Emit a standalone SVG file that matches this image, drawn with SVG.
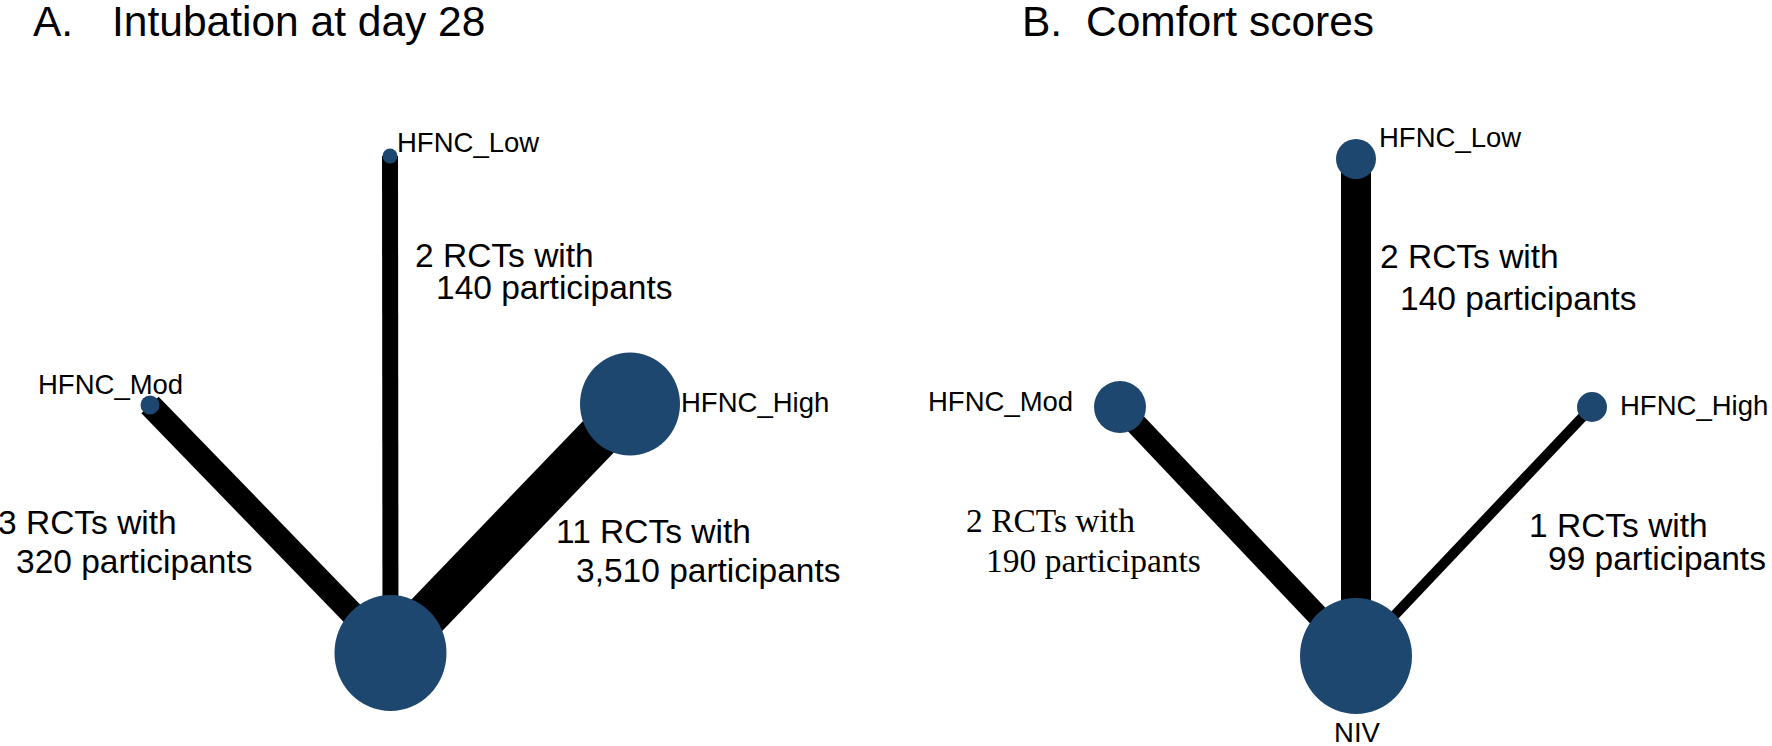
<svg xmlns="http://www.w3.org/2000/svg" width="1772" height="746" viewBox="0 0 1772 746">
<style>
.title{font-family:"Liberation Sans",Arial,sans-serif;font-size:42.5px;fill:#000}
.nl{font-family:"Liberation Sans",Arial,sans-serif;font-size:27.5px;fill:#000}
.el{font-family:"Liberation Sans",Arial,sans-serif;font-size:33.5px;fill:#000}
.els{font-family:"Liberation Serif","Times New Roman",serif;font-size:33.5px;fill:#000}
.node{fill:#1d476e}
.edge{stroke:#000;stroke-linecap:butt;fill:none}
</style>
<rect width="1772" height="746" fill="#fff"/>
<g id="titles">
<text class="title" x="33" y="36">A.</text>
<text class="title" x="112" y="36">Intubation at day 28</text>
<text class="title" x="1022" y="36">B.</text>
<text class="title" x="1086" y="36">Comfort scores</text>
</g>
<g id="connectors">
<line class="edge" x1="390.5" y1="653" x2="390" y2="156" stroke-width="16"/>
<line class="edge" x1="390.5" y1="653" x2="150" y2="405" stroke-width="24"/>
<line class="edge" x1="390.5" y1="653" x2="630" y2="404" stroke-width="44"/>
<line class="edge" x1="1356" y1="656" x2="1356" y2="159" stroke-width="30"/>
<line class="edge" x1="1356" y1="656" x2="1120" y2="407" stroke-width="22"/>
<line class="edge" x1="1356" y1="656" x2="1592" y2="407" stroke-width="10"/>
</g>
<g id="edge-labels">
<text class="el" x="415" y="267">2 RCTs with</text>
<text class="el" x="436" y="299">140 participants</text>
<text class="el" x="-2" y="534">3 RCTs with</text>
<text class="el" x="16" y="573">320 participants</text>
<text class="el" x="556" y="543">11 RCTs with</text>
<text class="el" x="576" y="582">3,510 participants</text>
<text class="el" x="1380" y="268">2 RCTs with</text>
<text class="el" x="1400" y="310">140 participants</text>
<text class="els" x="966" y="532">2 RCTs with</text>
<text class="els" x="986" y="572">190 participants</text>
<text class="el" x="1529" y="537">1 RCTs with</text>
<text class="el" x="1548" y="570">99 participants</text>
</g>
<g id="A-NIV"><ellipse class="node" cx="390.5" cy="653" rx="56" ry="58"/></g>
<g id="A-HFNC_Low"><circle class="node" cx="390" cy="156" r="7.5"/><text class="nl" x="397" y="152">HFNC_Low</text></g>
<g id="A-HFNC_Mod"><circle class="node" cx="150" cy="405" r="9.5"/><text class="nl" x="38" y="394">HFNC_Mod</text></g>
<g id="A-HFNC_High"><ellipse class="node" cx="630" cy="404" rx="50" ry="51.5"/><text class="nl" x="681" y="412">HFNC_High</text></g>
<g id="B-NIV"><ellipse class="node" cx="1356" cy="656" rx="56" ry="58"/><text class="nl" x="1357" y="742" text-anchor="middle">NIV</text></g>
<g id="B-HFNC_Low"><circle class="node" cx="1356" cy="159" r="20"/><text class="nl" x="1379" y="147">HFNC_Low</text></g>
<g id="B-HFNC_Mod"><circle class="node" cx="1120" cy="407" r="26"/><text class="nl" x="928" y="411">HFNC_Mod</text></g>
<g id="B-HFNC_High"><circle class="node" cx="1592" cy="407" r="15"/><text class="nl" x="1620" y="415">HFNC_High</text></g>
</svg>
